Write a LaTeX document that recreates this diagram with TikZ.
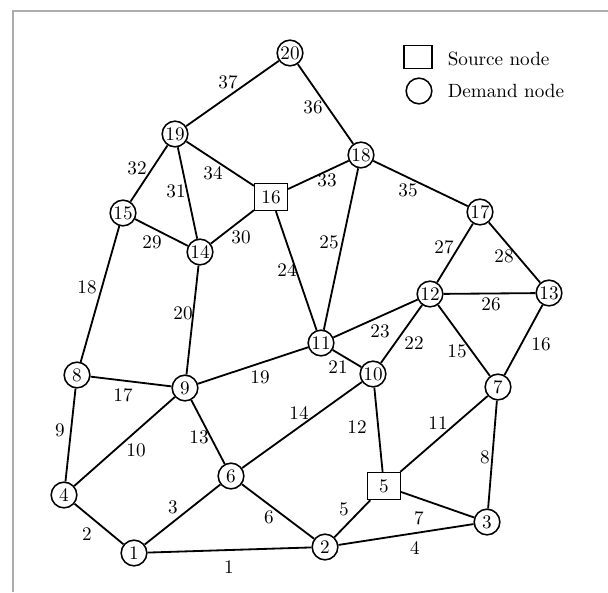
\documentclass[tikz,border=0pt]{standalone}
\usetikzlibrary{positioning}
\tikzset{
  demand/.style={draw, circle, minimum size=13.4pt, inner sep=0pt, line width=0.8pt},
  source/.style={draw, rectangle, minimum width=17pt, minimum height=14pt, inner sep=0pt, line width=0.8pt},
  link/.style={line width=0.95pt},
  lbl/.style={inner sep=0pt}
}
\begin{document}
\begin{tikzpicture}[x=0.522pt, y=-0.522pt]
        \useasboundingbox (0,0) rectangle (608,592);
        \draw[gray!65, line width=1.1pt] (608,11) -- (13,11) -- (13,592);
        % demand and source nodes
        \foreach \n/\x/\y in {1/134/553, 2/325/547, 3/487/522, 4/64/495, 6/231/476,
                              7/498/387, 8/77/375, 9/185/388, 10/373/374, 11/321/343,
                              12/430/294, 13/549/293, 14/200/252, 15/123/213,
                              17/480/212, 18/361/155, 19/175/134, 20/290/53}
            \node[demand] (n\n) at (\x,\y) {\n};
        \node[source] (n5) at (384,486) {5};
        \node[source] (n16) at (271,197) {16};
        % pipes
        \foreach \a/\b in {1/2, 1/4, 1/6, 2/3, 2/5, 2/6, 3/5, 3/7, 4/8, 4/9,
                           5/7, 5/10, 6/9, 6/10, 7/12, 7/13, 8/9, 8/15, 9/11,
                           9/14, 10/11, 10/12, 11/12, 11/16, 11/18, 12/13,
                           12/17, 13/17, 14/15, 14/16, 14/19, 15/19, 16/18,
                           16/19, 17/18, 18/20, 19/20}
            \draw[link] (n\a) -- (n\b);
        % pipe numbers
        \foreach \t/\x/\y in {1/229/567, 2/87/534, 3/173/507, 4/415/548, 5/344/509,
                              6/269/517, 7/419/518, 8/485/457, 9/60/430, 10/136/450,
                              11/438/423, 12/357/427, 13/199/437, 14/299/413,
                              15/457/351, 16/541/344, 17/123/395, 18/87/287,
                              19/260/377, 20/183/313, 21/338/367, 22/414/343,
                              23/380/331, 24/287/270, 25/329/242, 26/491/304,
                              27/444/247, 28/504/256, 29/152/242, 30/241/237,
                              31/176/191, 32/137/168, 33/327/180, 34/213/173,
                              35/408/190, 36/313/107, 37/228/82}
            \node[lbl] (p\t) at (\x,\y) {\t};
        % legend
        \node[source, minimum width=14.5pt, minimum height=12pt] (keysrc) at (418,57) {};
        \node[anchor=west] (keysrctxt) at (441,59) {Source node};
        \node[demand] (keydem) at (419,91) {};
        \node[anchor=west] (keydemtxt) at (keysrctxt.west |- keydem) {Demand node};
\end{tikzpicture}
\end{document}
